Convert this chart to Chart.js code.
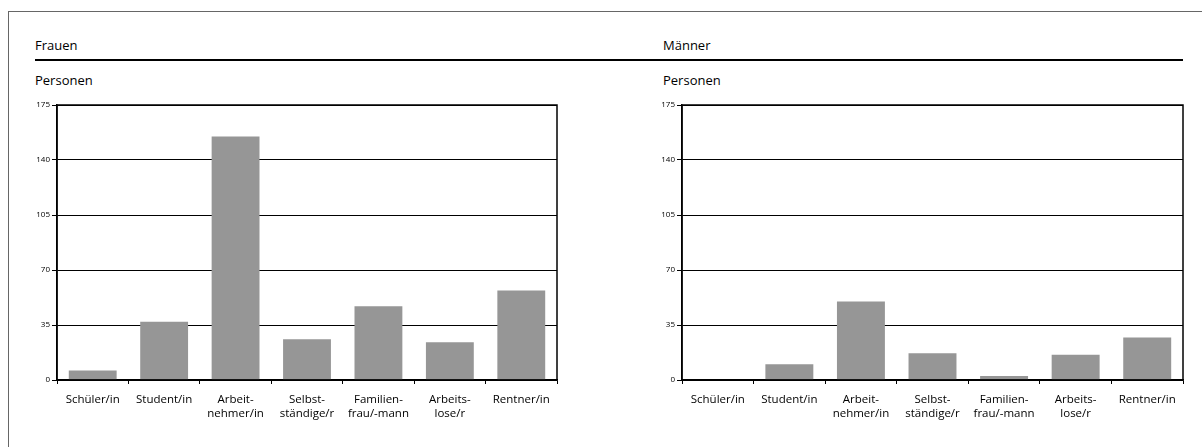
<!DOCTYPE html>
<html>
<head>
<meta charset="utf-8">
<script src="https://cdn.jsdelivr.net/npm/chart.js@4/dist/chart.umd.min.js"></script>
<style>
  body { margin: 0; background: #fff; width: 1202px; height: 447px; overflow: hidden; font-family: "Open Sans", sans-serif; }
  .rahmen { position: absolute; left: 8px; top: 11px; width: 1300px; height: 500px; border-left: 1px solid #666; border-top: 1px solid #666; }
  .titel { position: absolute; font-size: 13px; color: #000; }
  .linie { position: absolute; left: 35px; top: 59px; width: 1148px; height: 2px; background: #000; }
  .box { position: absolute; top: 95px; width: 545px; height: 330px; }
</style>
</head>
<body>
<div class="rahmen"></div>
<div class="titel" style="left:35px; top:36px;">Frauen</div>
<div class="titel" style="left:663px; top:36px;">Männer</div>
<div class="linie"></div>
<div class="titel" style="left:35px; top:71px;">Personen</div>
<div class="titel" style="left:663px; top:71px;">Personen</div>
<div class="box" style="left:20px;"><canvas id="frauenChart"></canvas></div>
<div class="box" style="left:645px;"><canvas id="maennerChart"></canvas></div>
<script>
const kategorien = ['Schüler/in', 'Student/in', ['Arbeit-', 'nehmer/in'], ['Selbst-', 'ständige/r'], ['Familien-', 'frau/-mann'], ['Arbeits-', 'lose/r'], 'Rentner/in']
const werteFrauen = [6, 37, 155, 26, 47, 24, 57]
const werteMaenner = [0, 10, 50, 17, 2.5, 16, 27]
const yTicks = [0, 35, 70, 105, 140, 175]

const rahmenPlugin = {
    id: 'rahmen',
    afterDraw: (chart) => {
        const a = chart.chartArea
        const ctx = chart.ctx
        ctx.save()
        ctx.strokeStyle = '#000'
        ctx.lineWidth = 1.5
        ctx.strokeRect(a.left, a.top, a.right - a.left, a.bottom - a.top)
        ctx.restore()
    }
}

const baueChart = (canvas, werte, rechtsPadding) => {
    return new Chart(canvas, {
        type: 'bar',
        data: {
            labels: kategorien,
            datasets: [{
                data: werte,
                backgroundColor: '#969696',
                borderWidth: 0,
                barPercentage: 0.67,
                categoryPercentage: 1
            }]
        },
        options: {
            responsive: false,
            animation: false,
            layout: { padding: { top: 10, right: rechtsPadding, bottom: 0, left: 0 } },
            plugins: { legend: { display: false }, tooltip: { enabled: false } },
            scales: {
                x: {
                    grid: { display: true, drawOnChartArea: false, drawTicks: true, tickLength: 4, color: '#000', offset: true },
                    border: { display: true, color: '#000', width: 1.5 },
                    ticks: { color: '#000', font: { family: 'Open Sans', size: 11.5, lineHeight: 1.22 }, padding: 9, maxRotation: 0, autoSkip: false },
                    afterFit: (scale) => { scale.height = 45 }
                },
                y: {
                    min: 0,
                    max: 175,
                    afterBuildTicks: (scale) => { scale.ticks = yTicks.map(v => ({ value: v })) },
                    grid: { color: '#000', lineWidth: 1, tickLength: 5, drawTicks: true },
                    border: { display: true, color: '#000', width: 1.5 },
                    ticks: { color: '#000', font: { family: 'Open Sans', size: 8 }, padding: 2 },
                    afterFit: (scale) => { scale.width = 37 }
                }
            }
        },
        plugins: [rahmenPlugin]
    })
}

const zeichneAlles = () => {
    const c1 = document.querySelector('#frauenChart')
    const c2 = document.querySelector('#maennerChart')
    c1.width = 545; c1.height = 330
    c2.width = 545; c2.height = 330
    baueChart(c1, werteFrauen, 8)
    baueChart(c2, werteMaenner, 7)
}

zeichneAlles()
</script>
</body>
</html>
